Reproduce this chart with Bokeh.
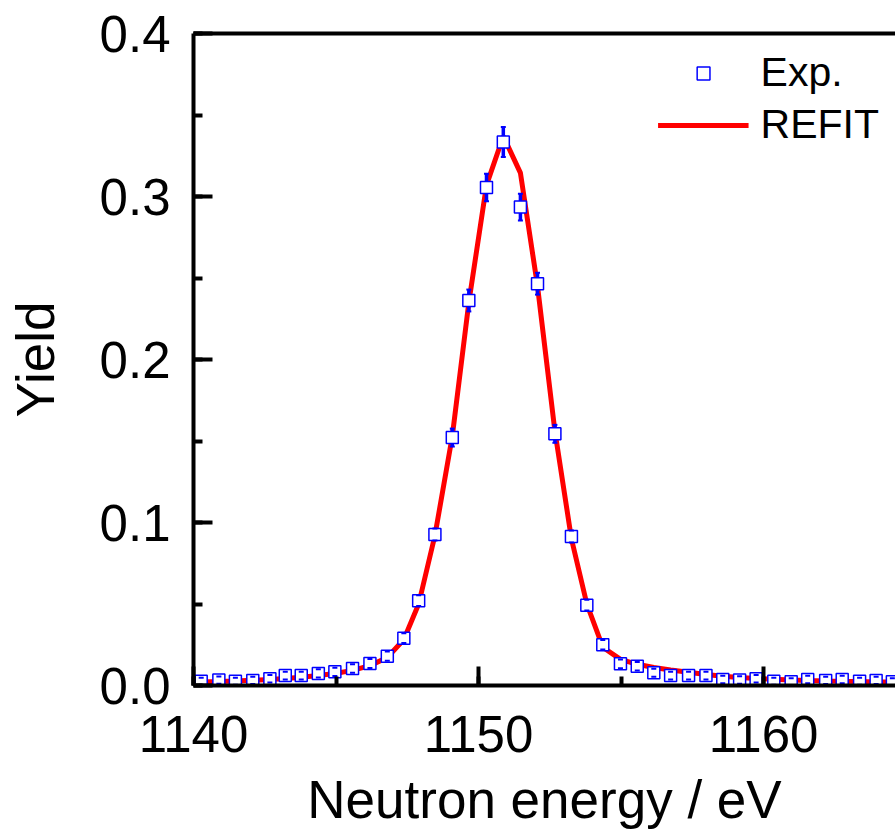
from bokeh.plotting import figure
from bokeh.embed import file_html
from bokeh.resources import INLINE
from bokeh.models import (Range1d, LinearAxis, FixedTicker, SingleIntervalTicker,
                          NumeralTickFormatter, Legend, LegendItem)

# Measured capture yield around the 1151 eV resonance
energy = [1140.27, 1140.89, 1141.47, 1142.08, 1142.68, 1143.22, 1143.78, 1144.38,
          1144.96, 1145.58, 1146.19, 1146.80, 1147.38, 1147.90, 1148.47, 1149.08,
          1149.66, 1150.28, 1150.87, 1151.47, 1152.07, 1152.68, 1153.26, 1153.80,
          1154.36, 1154.98, 1155.57, 1156.15, 1156.74, 1157.37, 1157.98, 1158.57,
          1159.16, 1159.74, 1160.36, 1160.97, 1161.55, 1162.18, 1162.76, 1163.37,
          1163.95, 1164.52]

yield_exp = [0.0026, 0.0033, 0.0026, 0.0031, 0.0041, 0.0061, 0.0061, 0.0074,
             0.0084, 0.0104, 0.0135, 0.0180, 0.0290, 0.0520, 0.0926, 0.1521,
             0.2362, 0.3055, 0.3335, 0.2935, 0.2465, 0.1544, 0.0914, 0.0493,
             0.0250, 0.0133, 0.0118, 0.0078, 0.0061, 0.0061, 0.0061, 0.0037,
             0.0033, 0.0041, 0.0026, 0.0023, 0.0037, 0.0031, 0.0037, 0.0026,
             0.0031, 0.0023]

yield_err = [0.0022, 0.0022, 0.0022, 0.0022, 0.0023, 0.0024, 0.0024, 0.0025,
             0.0025, 0.0026, 0.0027, 0.0028, 0.0030, 0.0033, 0.0037, 0.0055,
             0.0067, 0.0084, 0.0092, 0.0082, 0.0067, 0.0055, 0.0037, 0.0033,
             0.0029, 0.0027, 0.0026, 0.0025, 0.0024, 0.0024, 0.0024, 0.0023,
             0.0023, 0.0023, 0.0022, 0.0022, 0.0023, 0.0022, 0.0023, 0.0022,
             0.0022, 0.0022]

# REFIT calculation at the same energies
yield_fit = [0.0022, 0.0025, 0.0028, 0.0032, 0.0037, 0.0043, 0.0051, 0.0061,
             0.0074, 0.0093, 0.0122, 0.0172, 0.0282, 0.0500, 0.0920, 0.1530,
             0.2350, 0.3070, 0.3370, 0.3145, 0.2450, 0.1560, 0.0900, 0.0500,
             0.0235, 0.0160, 0.0130, 0.0110, 0.0095, 0.0081, 0.0068, 0.0057,
             0.0049, 0.0043, 0.0038, 0.0034, 0.0031, 0.0028, 0.0026, 0.0024,
             0.0022, 0.0021]

FONT = "Liberation Sans"
BLUE = "#0000FF"
RED = "#FF0000"

p = figure(width=895, height=831, output_backend="svg", toolbar_location=None,
           x_range=Range1d(1140, 1164.63), y_range=Range1d(0, 0.4),
           min_border_left=193, min_border_top=33, min_border_bottom=145,
           min_border_right=0)
p.xgrid.visible = False
p.ygrid.visible = False
p.outline_line_color = None
p.background_fill_color = "white"
p.border_fill_color = "white"

# fitted curve
fit_r = p.line(energy, yield_fit, line_color=RED, line_width=5)

# error bar stems, then markers, then caps
lower = [y - e for y, e in zip(yield_exp, yield_err)]
upper = [y + e for y, e in zip(yield_exp, yield_err)]
p.segment(x0=energy, y0=lower, x1=energy, y1=upper, line_color=BLUE, line_width=3.5)
exp_r = p.scatter(energy, yield_exp, marker="square", size=12, line_color=BLUE,
                  line_width=1.5, fill_color="white")
p.scatter(energy, upper, marker="dash", size=5, line_color=BLUE, line_width=2)
p.scatter(energy, lower, marker="dash", size=5, line_color=BLUE, line_width=2)

# axes
p.xaxis.ticker = SingleIntervalTicker(interval=10, num_minor_ticks=2)
p.yaxis.ticker = SingleIntervalTicker(interval=0.1, num_minor_ticks=2)
p.yaxis.formatter = NumeralTickFormatter(format="0.0")
p.xaxis.axis_label = "Neutron energy / eV"
p.yaxis.axis_label = "Yield"

for ax in (p.xaxis[0], p.yaxis[0]):
    ax.axis_line_width = 4
    ax.axis_line_color = "black"
    ax.major_tick_line_width = 4
    ax.minor_tick_line_width = 4
    ax.major_tick_in = 19
    ax.major_tick_out = 0
    ax.minor_tick_in = 9
    ax.minor_tick_out = 0
    ax.major_label_text_font = FONT
    ax.major_label_text_font_size = "51px"
    ax.major_label_text_color = "black"
    ax.axis_label_text_font = FONT
    ax.axis_label_text_font_size = "53px"
    ax.axis_label_text_font_style = "normal"
    ax.axis_label_text_color = "black"

p.xaxis.major_label_standoff = 30
p.xaxis.axis_label_standoff = 15
p.yaxis.major_label_standoff = 23
p.yaxis.axis_label_standoff = 32

# top frame line
top = LinearAxis(ticker=FixedTicker(ticks=[]), axis_line_width=4,
                 axis_line_color="black", major_tick_in=0, major_tick_out=0,
                 minor_tick_in=0, minor_tick_out=0)
p.add_layout(top, "above")

legend = Legend(items=[LegendItem(label="Exp.", renderers=[exp_r]),
                       LegendItem(label="REFIT", renderers=[fit_r])],
                location="top_right", padding=0, margin=16,
                glyph_width=91, glyph_height=32, label_height=46, spacing=5,
                label_standoff=12, label_text_font=FONT,
                label_text_font_size="41px", label_text_color="black",
                border_line_color=None, background_fill_alpha=0)
p.add_layout(legend)

open("out.html", "w").write(file_html(p, INLINE))
